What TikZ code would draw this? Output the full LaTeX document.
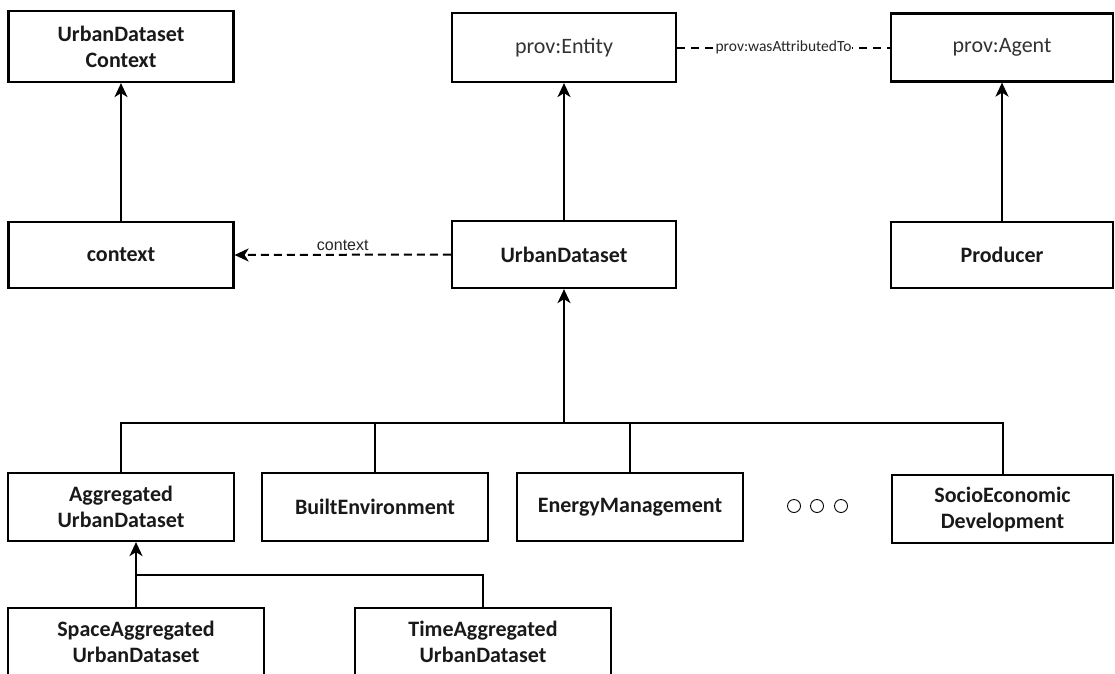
\documentclass[tikz,border=0pt]{standalone}
\usepackage{fontspec}
\setmainfont{Carlito}
\newfontfamily\arialf{Liberation Sans}
\usetikzlibrary{arrows.meta}
\tikzset{
  box/.style={draw, line width=2.2pt, align=center, inner sep=0pt, text=black!90,
    font=\bfseries\fontsize{22}{26}\selectfont},
  provbox/.style={box, text=black!80, font=\fontsize{22}{26}\selectfont},
  conn/.style={line width=2pt},
  arr/.style={conn, -{Stealth[length=14pt,width=13pt,inset=4pt]}},
  dasharr/.style={arr, dash pattern=on 8pt off 5pt},
  dashline/.style={conn, dash pattern=on 8pt off 6pt},
  ell/.style={circle, draw, line width=0.9pt, minimum size=13pt, inner sep=0pt}
}
\begin{document}
\begin{tikzpicture}[x=1pt,y=-1pt]
\useasboundingbox (0,0) rectangle (1115,673);
\clip (0,0) rectangle (1115,673);
% nodes
\node[box, minimum width=225, minimum height=71] (udc) at (121,46.5) {UrbanDataset\\Context};
\node[provbox, minimum width=224, minimum height=69] (ent) at (564,47.5) {prov:Entity};
\node[provbox, minimum width=222, minimum height=68] (agt) at (1002,47.5) {prov:Agent};
\node[box, minimum width=225, minimum height=66] (ctx) at (121,255) {context};
\node[box, minimum width=224, minimum height=67] (ud) at (564,254.5) {UrbanDataset};
\node[box, minimum width=222, minimum height=66] (prod) at (1002,255) {Producer};
\node[box, minimum width=226, minimum height=68] (agg) at (121,507) {Aggregated\\UrbanDataset};
\node[box, minimum width=226, minimum height=68] (be) at (375,507) {BuiltEnvironment};
\node[box, minimum width=226, minimum height=68] (em) at (630,507) {EnergyManagement};
\node[box, minimum width=221, minimum height=68] (soc) at (1002.5,509) {SocioEconomic\\Development};
\node[box, minimum width=256, minimum height=68] (sp) at (136,642) {SpaceAggregated\\UrbanDataset};
\node[box, minimum width=256, minimum height=68] (ta) at (483,642) {TimeAggregated\\UrbanDataset};
\node[ell] (d1) at (794,506) {};
\node[ell] (d2) at (817,506) {};
\node[ell] (d3) at (841,506) {};
% connectors
\draw[arr] (ctx.north) -- (udc.south);
\draw[arr] (ud.north) -- (ent.south);
\draw[arr] (prod.north) -- (agt.south);
\draw[dasharr] (ud.west) -- node[midway, above, inner sep=3pt, font=\arialf\fontsize{16}{18}\selectfont, text=black!85] {context} (ctx.east);
\draw[dashline] (ent.east) -- node[midway, fill=white, inner sep=1pt, font=\fontsize{15.5}{17}\selectfont, text=black!85] {prov:wasAttributedTo} (agt.west);
\coordinate (bus) at (564,423);
\draw[arr] (bus) -- (ud.south);
\draw[conn] (agg.north) |- (bus) -| (soc.north);
\draw[conn] (be.north) -- (be.north |- bus);
\draw[conn] (em.north) -- (em.north |- bus);
\coordinate (sub) at (136,575);
\draw[arr] (sp.north) -- (sp.north |- agg.south);
\draw[conn] (ta.north) |- (sub);
\end{tikzpicture}
\end{document}
